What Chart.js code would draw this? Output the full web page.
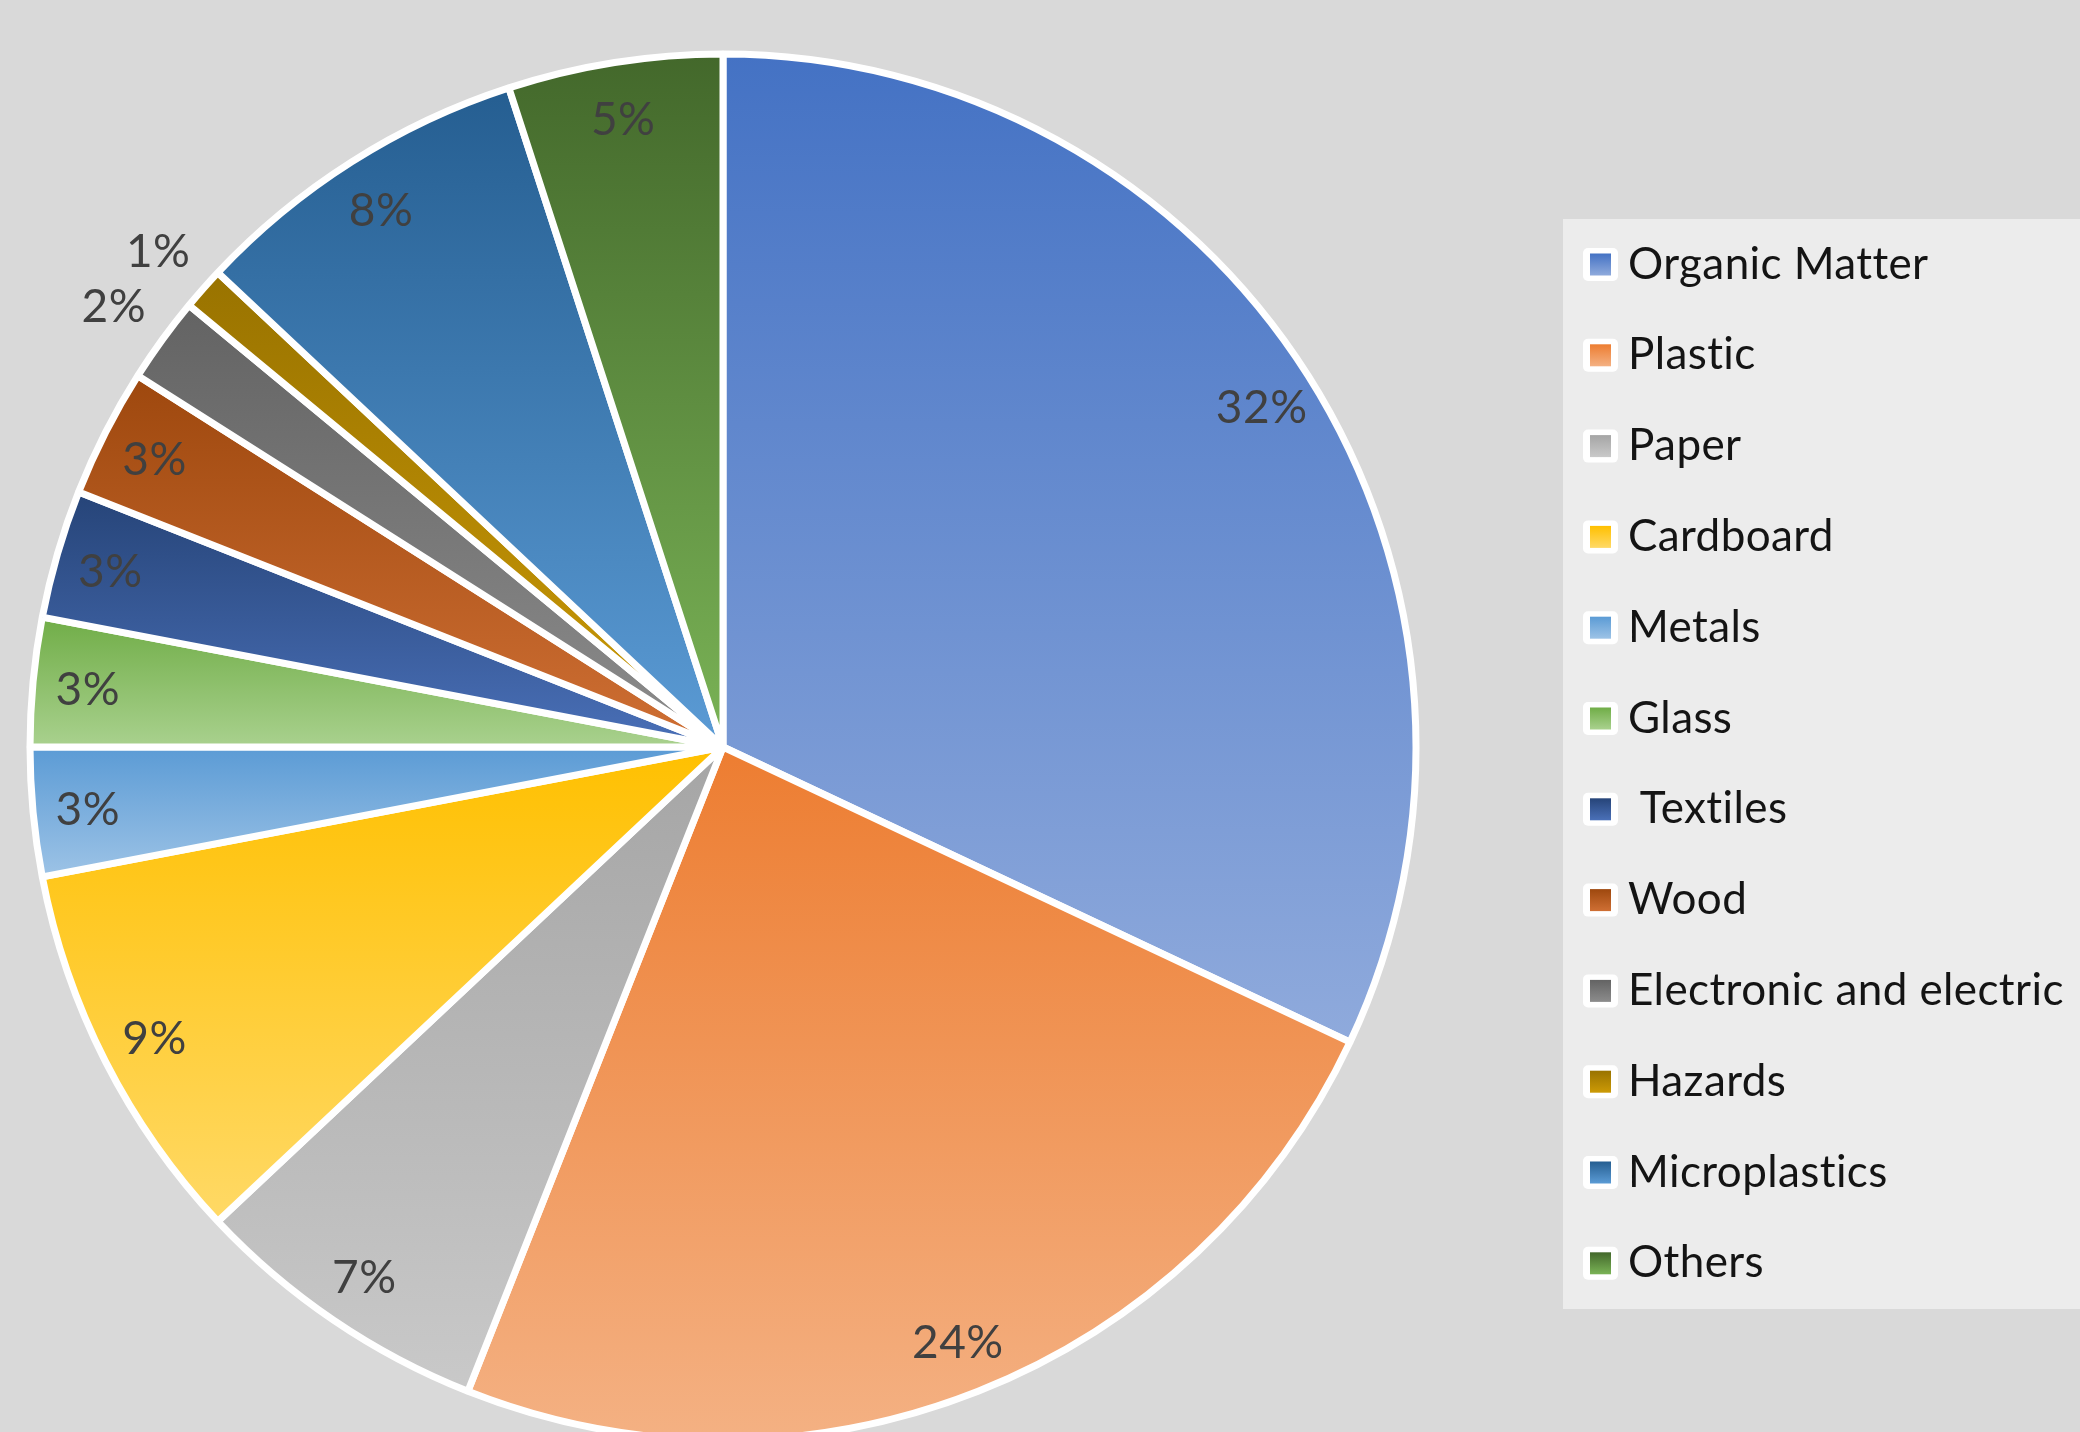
<!DOCTYPE html>
<html>
<head>
<meta charset="utf-8">
<script src="https://cdn.jsdelivr.net/npm/chart.js@4.4.1/dist/chart.umd.min.js"></script>
<style>
  html, body { margin: 0; padding: 0; background: #d9d9d9; }
  #wrap { width: 2080px; height: 1432px; position: relative; }
</style>
</head>
<body>
<div id="wrap"><canvas id="pie"></canvas></div>
<script>
// waste composition (%), clockwise from 12 o'clock
const categories = [
  "Organic Matter", "Plastic", "Paper", "Cardboard", "Metals", "Glass",
  " Textiles", "Wood", "Electronic and electric", "Hazards", "Microplastics", "Others",
];
const shares = [32, 24, 7, 9, 3, 3, 3, 3, 2, 1, 8, 5];

// gradient stops for each slice (top -> bottom)
const topColors = [
  "#4472c4", "#ed7d31", "#a5a5a5", "#ffc000", "#5b9bd5", "#70ad47",
  "#264478", "#9e480e", "#636363", "#997300", "#255e91", "#43682b",
];
const bottomColors = [
  "#8faadc", "#f4b183", "#c9c9c9", "#ffd966", "#9dc3e6", "#a9d18e",
  "#4a70b8", "#cf6f34", "#8c8c8c", "#cc9a06", "#5b9bd5", "#7ab356",
];

const FONT = "Lato, 'Open Sans', sans-serif";

// y-range of a sector, so each slice gets its own vertical gradient
function sectorYRange(cy, r, a0, a1) {
  let ymin = Math.min(cy, cy + r * Math.sin(a0), cy + r * Math.sin(a1));
  let ymax = Math.max(cy, cy + r * Math.sin(a0), cy + r * Math.sin(a1));
  for (let k = -2; k <= 2; k++) {
    const up = -Math.PI / 2 + k * 2 * Math.PI;
    const down = Math.PI / 2 + k * 2 * Math.PI;
    if (up >= a0 && up <= a1) ymin = cy - r;
    if (down >= a0 && down <= a1) ymax = cy + r;
  }
  return [ymin, ymax];
}

const gradientFill = {
  id: "gradientFill",
  beforeDatasetsDraw(chart) {
    const ctx = chart.ctx;
    chart.getDatasetMeta(0).data.forEach((arc, i) => {
      const p = arc.getProps(["y", "startAngle", "endAngle", "outerRadius"], true);
      const [y0, y1] = sectorYRange(p.y, p.outerRadius, p.startAngle, p.endAngle);
      const g = ctx.createLinearGradient(0, y0, 0, y1);
      g.addColorStop(0, topColors[i]);
      g.addColorStop(1, bottomColors[i]);
      arc.options.backgroundColor = g;
    });
  },
};

const sliceLabels = {
  id: "sliceLabels",
  afterDatasetsDraw(chart) {
    const ctx = chart.ctx;
    ctx.save();
    ctx.font = "46px " + FONT;
    ctx.letterSpacing = "0.5px";
    ctx.fillStyle = "#404040";
    ctx.textAlign = "center";
    ctx.textBaseline = "middle";
    chart.getDatasetMeta(0).data.forEach((arc, i) => {
      const p = arc.getProps(["x", "y", "startAngle", "endAngle", "outerRadius"], true);
      const mid = (p.startAngle + p.endAngle) / 2;
      const d = shares[i] < 2.5 ? p.outerRadius + 60 : p.outerRadius - 55;
      ctx.fillText(shares[i] + "%", p.x + d * Math.cos(mid), p.y + d * Math.sin(mid) + 3);
    });
    ctx.restore();
  },
};

const sideLegend = {
  id: "sideLegend",
  afterDraw(chart) {
    const ctx = chart.ctx;
    ctx.save();
    ctx.fillStyle = "#ececec";
    ctx.fillRect(1563, 219, 517, 1090);
    ctx.font = "44px " + FONT;
    ctx.letterSpacing = "0.4px";
    ctx.textAlign = "left";
    ctx.textBaseline = "alphabetic";
    categories.forEach((name, i) => {
      const cy = 264.5 + i * 90.8;
      ctx.fillStyle = "#ffffff";
      ctx.beginPath();
      ctx.roundRect(1583, cy - 16.5, 35, 33, 5);
      ctx.fill();
      const g = ctx.createLinearGradient(0, cy - 11, 0, cy + 11);
      g.addColorStop(0, topColors[i]);
      g.addColorStop(1, bottomColors[i]);
      ctx.fillStyle = g;
      ctx.fillRect(1590, cy - 11, 21, 22);
      ctx.fillStyle = "#141414";
      ctx.fillText(name, 1628, cy + 14);
    });
    ctx.restore();
  },
};

new Chart(document.getElementById("pie"), {
  type: "pie",
  data: {
    labels: categories,
    datasets: [{
      data: shares,
      backgroundColor: topColors,
      borderColor: "#ffffff",
      borderWidth: 7,
      radius: 693,
      clip: false,
    }],
  },
  options: {
    responsive: true,
    maintainAspectRatio: false,
    animation: false,
    layout: { padding: { left: 0, right: 634, top: 62, bottom: 0 } },
    plugins: {
      legend: { display: false },
      tooltip: { enabled: false },
    },
  },
  plugins: [gradientFill, sliceLabels, sideLegend],
});
</script>
</body>
</html>
